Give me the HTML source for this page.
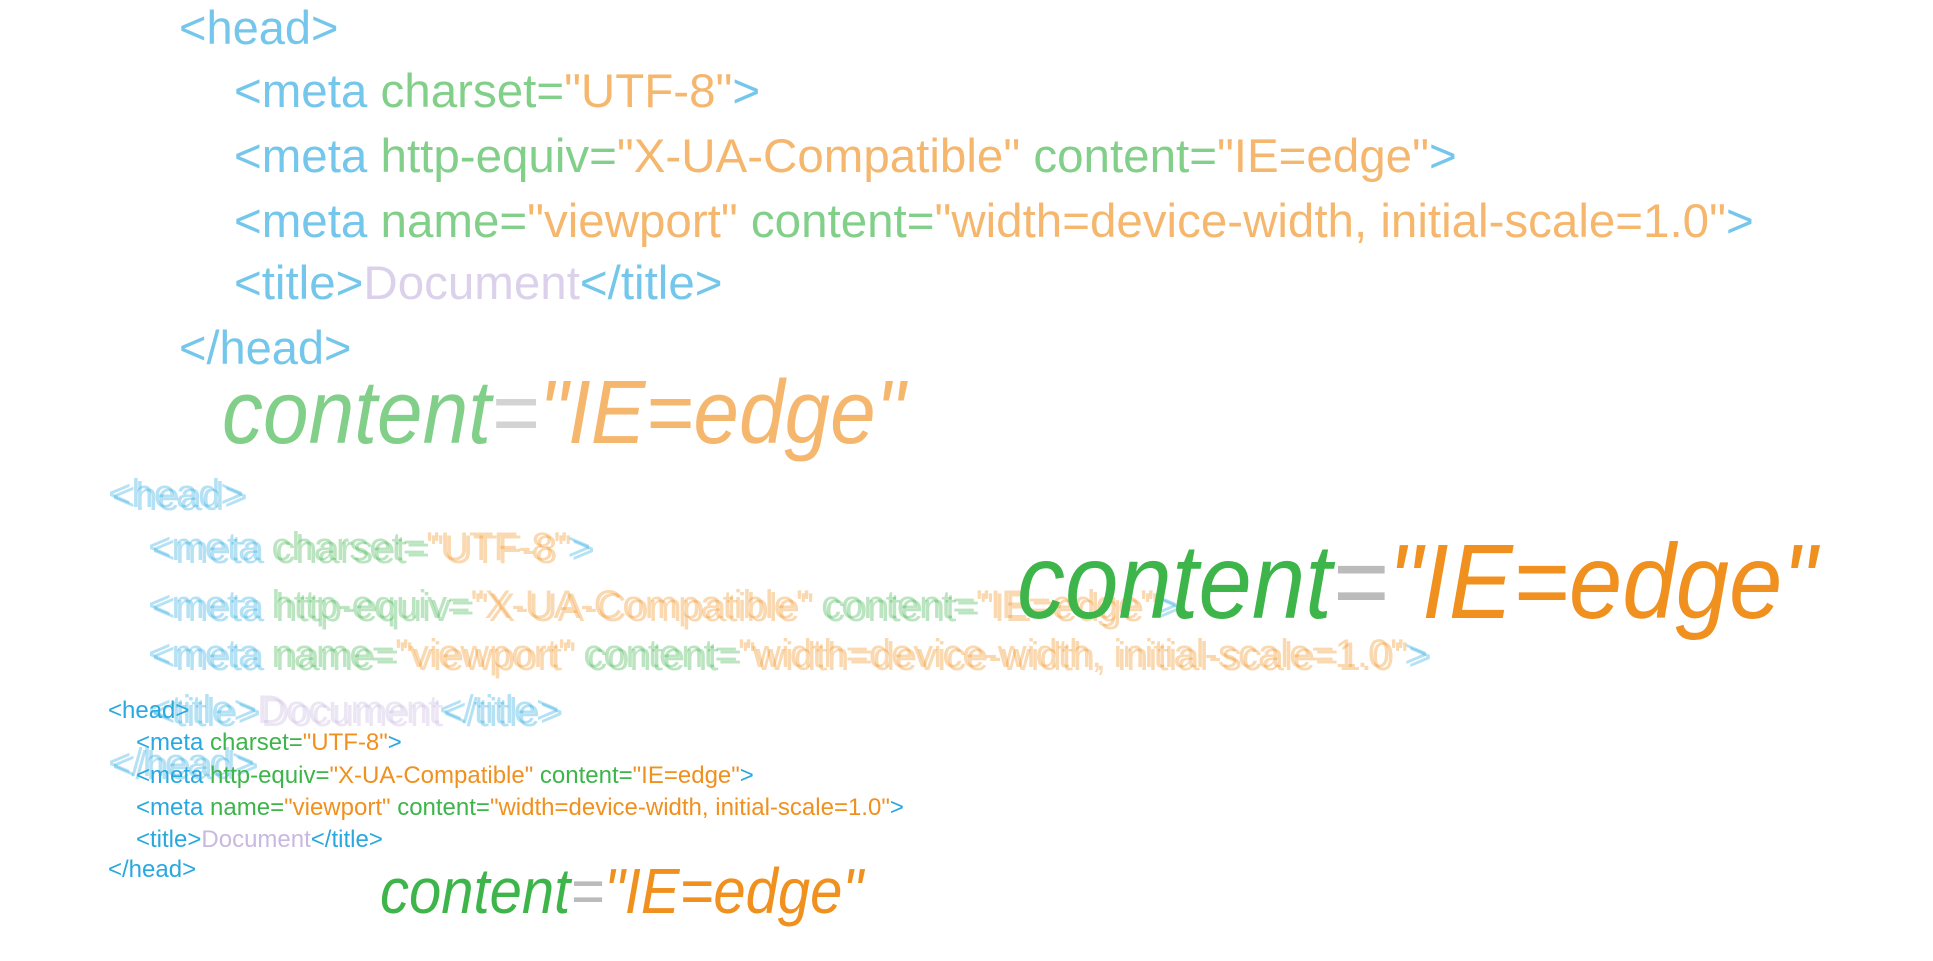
<!DOCTYPE html>
<html><head><meta charset="utf-8"><style>
body{margin:0;width:1933px;height:958px;background:#fff;overflow:hidden;position:relative;font-family:"Liberation Sans",sans-serif}
.l{position:absolute;white-space:nowrap;line-height:1}
.b{color:#29a8e0}.g{color:#3db54a}.o{color:#f0901e}.p{color:#c9b8e0}.gr{color:#bbb}
.top{opacity:.65}
.big{font-style:italic;letter-spacing:0px;transform:scaleY(1.1);transform-origin:left top}
.gh{opacity:.35}
</style></head><body>
<div class="top">
<div class="l b" style="left:179px;top:4px;font-size:47px">&lt;head&gt;</div>
<div class="l" style="left:234px;top:68px;font-size:47.5px"><span class="b">&lt;meta </span><span class="g">charset=</span><span class="o">"UTF-8"</span><span class="b">&gt;</span></div>
<div class="l" style="left:234px;top:133px;font-size:47.5px"><span class="b">&lt;meta </span><span class="g">http-equiv=</span><span class="o">"X-UA-Compatible" </span><span class="g">content=</span><span class="o">"IE=edge"</span><span class="b">&gt;</span></div>
<div class="l" style="left:234px;top:198px;font-size:47.5px"><span class="b">&lt;meta </span><span class="g">name=</span><span class="o">"viewport" </span><span class="g">content=</span><span class="o">"width=device-width, initial-scale=1.0"</span><span class="b">&gt;</span></div>
<div class="l" style="left:234px;top:260px;font-size:47.5px"><span class="b">&lt;title&gt;</span><span class="p">Document</span><span class="b">&lt;/title&gt;</span></div>
<div class="l b" style="left:179px;top:324px;font-size:47px">&lt;/head&gt;</div>
<div class="l big" style="left:222px;top:368px;font-size:82px"><span class="g">content</span><span class="gr">=</span><span class="o">"IE=edge"</span></div>
</div>
<div class="gh">
<div class="l b" style="left:108px;top:474px;font-size:40px">&lt;head&gt;</div>
<div class="l" style="left:148px;top:527px;font-size:40px"><span class="b">&lt;meta </span><span class="g">charset=</span><span class="o">"UTF-8"</span><span class="b">&gt;</span></div>
<div class="l" style="left:148px;top:585px;font-size:40px"><span class="b">&lt;meta </span><span class="g">http-equiv=</span><span class="o">"X-UA-Compatible" </span><span class="g">content=</span><span class="o">"IE=edge"</span><span class="b">&gt;</span></div>
<div class="l" style="left:148px;top:634px;font-size:40px"><span class="b">&lt;meta </span><span class="g">name=</span><span class="o">"viewport" </span><span class="g">content=</span><span class="o">"width=device-width, initial-scale=1.0"</span><span class="b">&gt;</span></div>
<div class="l" style="left:148px;top:690px;font-size:40px"><span class="b">&lt;title&gt;</span><span class="p">Document</span><span class="b">&lt;/title&gt;</span></div>
<div class="l b" style="left:108px;top:743px;font-size:40px">&lt;/head&gt;</div>
</div>
<div class="gh" style="position:absolute;left:4px;top:3px;width:1933px;height:958px">
<div class="l b" style="left:108px;top:474px;font-size:40px">&lt;head&gt;</div>
<div class="l" style="left:148px;top:527px;font-size:40px"><span class="b">&lt;meta </span><span class="g">charset=</span><span class="o">"UTF-8"</span><span class="b">&gt;</span></div>
<div class="l" style="left:148px;top:585px;font-size:40px"><span class="b">&lt;meta </span><span class="g">http-equiv=</span><span class="o">"X-UA-Compatible" </span><span class="g">content=</span><span class="o">"IE=edge"</span><span class="b">&gt;</span></div>
<div class="l" style="left:148px;top:634px;font-size:40px"><span class="b">&lt;meta </span><span class="g">name=</span><span class="o">"viewport" </span><span class="g">content=</span><span class="o">"width=device-width, initial-scale=1.0"</span><span class="b">&gt;</span></div>
<div class="l" style="left:148px;top:690px;font-size:40px"><span class="b">&lt;title&gt;</span><span class="p">Document</span><span class="b">&lt;/title&gt;</span></div>
<div class="l b" style="left:108px;top:743px;font-size:40px">&lt;/head&gt;</div>
</div>
<div class="l big" style="left:1017px;top:530px;font-size:96px"><span class="g">content</span><span class="gr">=</span><span class="o">"IE=edge"</span></div>
<div class="l b" style="left:108px;top:699px;font-size:24px">&lt;head&gt;</div>
<div class="l" style="left:136px;top:731px;font-size:24px"><span class="b">&lt;meta </span><span class="g">charset=</span><span class="o">"UTF-8"</span><span class="b">&gt;</span></div>
<div class="l" style="left:136px;top:764px;font-size:24px"><span class="b">&lt;meta </span><span class="g">http-equiv=</span><span class="o">"X-UA-Compatible" </span><span class="g">content=</span><span class="o">"IE=edge"</span><span class="b">&gt;</span></div>
<div class="l" style="left:136px;top:796px;font-size:24px"><span class="b">&lt;meta </span><span class="g">name=</span><span class="o">"viewport" </span><span class="g">content=</span><span class="o">"width=device-width, initial-scale=1.0"</span><span class="b">&gt;</span></div>
<div class="l" style="left:136px;top:828px;font-size:24px"><span class="b">&lt;title&gt;</span><span class="p">Document</span><span class="b">&lt;/title&gt;</span></div>
<div class="l b" style="left:108px;top:858px;font-size:24px">&lt;/head&gt;</div>
<div class="l big" style="left:380px;top:860px;font-size:58px"><span class="g">content</span><span class="gr">=</span><span class="o">"IE=edge"</span></div>
</body></html>
